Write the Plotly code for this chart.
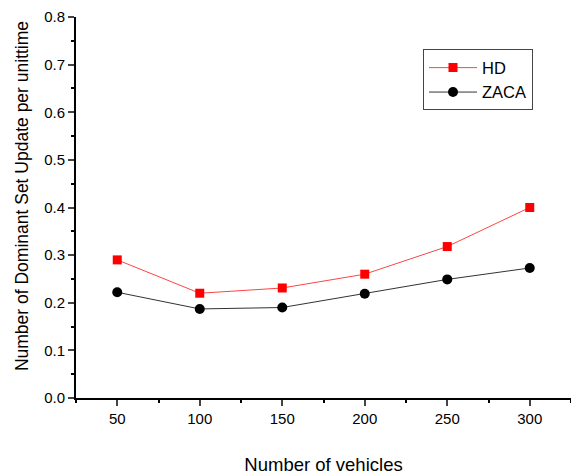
import plotly.graph_objects as go

vehicles = [50, 100, 150, 200, 250, 300]
hd = [0.29, 0.22, 0.231, 0.26, 0.318, 0.40]
zaca = [0.222, 0.187, 0.19, 0.219, 0.249, 0.273]

font = "Liberation Sans, Arial, sans-serif"

fig = go.Figure()
fig.add_trace(go.Scatter(
    x=vehicles, y=hd, name="HD", mode="lines+markers",
    line=dict(color="#ff4444", width=1),
    marker=dict(symbol="square", size=9, color="#ff0000"),
))
fig.add_trace(go.Scatter(
    x=vehicles, y=zaca, name="ZACA", mode="lines+markers",
    line=dict(color="#333333", width=1),
    marker=dict(symbol="circle", size=10, color="#000000"),
))

fig.update_layout(
    width=571, height=475,
    margin=dict(l=76, r=0, t=17, b=77, autoexpand=False),
    paper_bgcolor="white", plot_bgcolor="white",
    font=dict(family=font, size=15, color="black"),
    showlegend=True,
    legend=dict(
        x=0.701, y=0.915, xanchor="left", yanchor="top",
        bordercolor="#444444", borderwidth=1, bgcolor="white",
        font=dict(family=font, size=16.5, color="black"),
        tracegroupgap=0, itemwidth=48,
    ),
    annotations=[dict(
        text="Number of Dominant Set Update per unittime",
        xref="paper", yref="paper", x=-0.109, y=0.530,
        xanchor="center", yanchor="middle", textangle=-90, showarrow=False,
        font=dict(family=font, size=17.5, color="black"),
    )],
)
fig.update_xaxes(
    range=[25, 325], tickvals=vehicles, ticks="outside", ticklen=6, tickwidth=1.5,
    showline=True, linecolor="black", linewidth=2, showgrid=False, zeroline=False,
    automargin=False,
    minor=dict(ticks="outside", ticklen=3, tickvals=[25, 75, 125, 175, 225, 275, 325], tickcolor="black"),
    title=dict(text="Number of vehicles", font=dict(family=font, size=18.5), standoff=33),
    tickfont=dict(family=font, size=15),
)
fig.update_yaxes(
    range=[0, 0.8], dtick=0.1, tickformat=".1f", ticks="outside", ticklen=6, tickwidth=1.5,
    showline=True, linecolor="black", linewidth=2, showgrid=False, zeroline=False,
    automargin=False,
    minor=dict(ticks="outside", ticklen=3, dtick=0.05, tickcolor="black"),
    tickfont=dict(family=font, size=15),
)

fig.write_html(
    "out.html",
    config={"displayModeBar": False},
    post_script="document.body.style.margin='0';document.body.style.overflow='hidden';",
)
